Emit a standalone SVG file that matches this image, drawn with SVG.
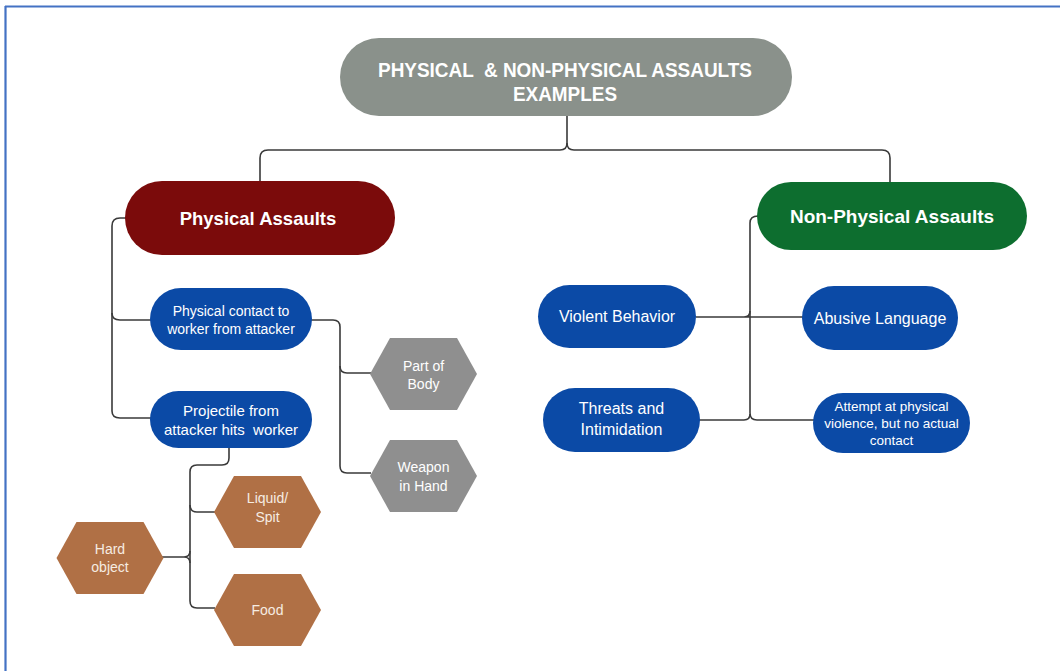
<svg xmlns="http://www.w3.org/2000/svg" width="1060" height="671" viewBox="0 0 1060 671">
<style>
.conn{fill:none;stroke:#3a3a3a;stroke-width:1.6}
.t{font-family:"Liberation Sans",Arial,sans-serif;fill:#ffffff;text-anchor:middle}
.b{font-weight:bold}
.blue{fill:#0b4aa6}
.hexg{fill:#8f8f8f}
.hexb{fill:#b07045}
.hl{fill:#f6ece2}
</style>
<defs>
<polygon id="hex" points="-53.5,0 -33.5,-36 33.5,-36 53.5,0 33.5,36 -33.5,36"/>
</defs>
<rect x="0" y="0" width="1060" height="671" fill="#ffffff"/>
<path d="M5,6.5 H1060 M5.5,6 V671" fill="none" stroke="#4472c4" stroke-width="2.2"/>

<g id="connectors" class="conn">
<path d="M567,116 V143 Q567,150 560,150 H268 Q260,150 260,158 V182"/>
<path d="M567,143 Q567,150 574,150 H882 Q890,150 890,158 V182"/>
<path d="M126,218 H120 Q112,218 112,226 V411 Q112,418 120,418 H151"/>
<path d="M112,313 Q112,320 120,320 H151"/>
<path d="M311,320 H333 Q340,320 340,327 V366 Q340,373 347,373 H371"/>
<path d="M340,366 V466 Q340,473 347,473 H371"/>
<path d="M229,447 V458 Q229,465 222,465 H197 Q190,465 190,472 V601 Q190,608 197,608 H215"/>
<path d="M190,505 Q190,512 197,512 H215"/>
<path d="M162,557 H184 Q190,557 190,551 M184,557 Q190,557 190,563"/>
<path d="M758,216 Q750,216 750,223 V413 Q750,420 757,420 H814"/>
<path d="M696,317 H744 Q750,317 750,311 M744,317 Q750,317 756,317 H803"/>
<path d="M699,420 H744 Q750,420 750,414"/>
</g>

<g id="title">
<rect x="340" y="38" width="452" height="78" rx="39" fill="#8a918b"/>
<text class="t b" x="565" y="77" font-size="21" fill="#f3f3f3" textLength="374" lengthAdjust="spacingAndGlyphs" xml:space="preserve">PHYSICAL  &amp; NON-PHYSICAL ASSAULTS</text>
<text class="t b" x="565" y="101" font-size="21" textLength="104" lengthAdjust="spacingAndGlyphs">EXAMPLES</text>
</g>

<g id="physical-assaults">
<rect x="125" y="181" width="270" height="74" rx="37" fill="#7b0b0b"/>
<text class="t b" x="258" y="225" font-size="18.5">Physical Assaults</text>
</g>

<g id="non-physical-assaults">
<rect x="757" y="182" width="270" height="68" rx="34" fill="#0d6e2f"/>
<text class="t b" x="892" y="223" font-size="19">Non-Physical Assaults</text>
</g>

<g id="physical-contact">
<rect class="blue" x="150" y="288" width="162" height="62" rx="31"/>
<text class="t" x="231" y="316" font-size="14">Physical contact to</text>
<text class="t" x="231" y="334" font-size="14">worker from attacker</text>
</g>

<g id="projectile">
<rect class="blue" x="150" y="391" width="162" height="57" rx="28.5"/>
<text class="t" x="231" y="416" font-size="15">Projectile from</text>
<text class="t" x="231" y="435" font-size="15" xml:space="preserve">attacker hits  worker</text>
</g>

<g id="part-of-body">
<use href="#hex" x="423.5" y="374" class="hexg"/>
<text class="t" x="423.5" y="371" font-size="14" fill="#f2f2f2">Part of</text>
<text class="t" x="423.5" y="389" font-size="14">Body</text>
</g>

<g id="weapon-in-hand">
<use href="#hex" x="423.5" y="476" class="hexg"/>
<text class="t" x="423.5" y="472" font-size="14">Weapon</text>
<text class="t" x="423.5" y="491" font-size="14">in Hand</text>
</g>

<g id="liquid-spit">
<use href="#hex" x="267.5" y="512" class="hexb"/>
<text class="t hl" x="267.5" y="503" font-size="14">Liquid/</text>
<text class="t hl" x="267.5" y="522" font-size="14">Spit</text>
</g>

<g id="hard-object">
<use href="#hex" x="110" y="558" class="hexb"/>
<text class="t hl" x="110" y="554" font-size="14">Hard</text>
<text class="t hl" x="110" y="572" font-size="14">object</text>
</g>

<g id="food">
<use href="#hex" x="267.5" y="610" class="hexb"/>
<text class="t hl" x="267.5" y="615" font-size="14">Food</text>
</g>

<g id="violent-behavior">
<rect class="blue" x="538" y="285" width="158" height="63" rx="31.5"/>
<text class="t" x="617" y="322" font-size="16">Violent Behavior</text>
</g>

<g id="abusive-language">
<rect class="blue" x="802" y="286" width="156" height="64" rx="32"/>
<text class="t" x="880" y="324" font-size="16">Abusive Language</text>
</g>

<g id="threats-intimidation">
<rect class="blue" x="543" y="388" width="157" height="64" rx="32"/>
<text class="t" x="621.5" y="414" font-size="16">Threats and</text>
<text class="t" x="621.5" y="435" font-size="16">Intimidation</text>
</g>

<g id="attempt">
<rect class="blue" x="813" y="393" width="157" height="60" rx="30"/>
<text class="t" x="891.5" y="411" font-size="13.5">Attempt at physical</text>
<text class="t" x="891.5" y="428" font-size="13.5">violence, but no actual</text>
<text class="t" x="891.5" y="445" font-size="13.5">contact</text>
</g>
</svg>
